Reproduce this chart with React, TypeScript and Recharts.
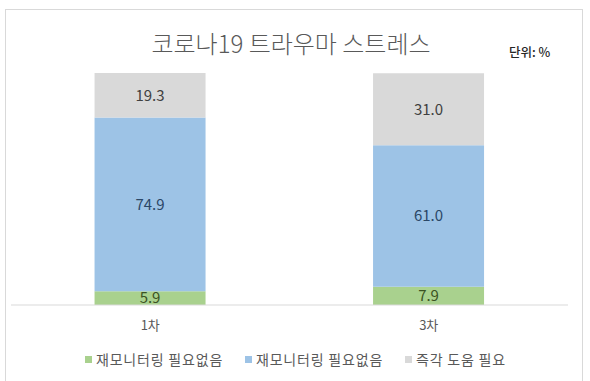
import React from 'react';
import { BarChart, Bar, XAxis, YAxis, LabelList } from 'recharts';

const categories = ['1차', '3차'];
const greenValues = [5.9, 7.9];
const blueValues = [74.9, 61.0];
const grayValues = [19.3, 31.0];
const seriesNames = ['재모니터링 필요없음', '재모니터링 필요없음', '즉각 도움 필요'];
const title = '코로나19 트라우마 스트레스';
const unitLabel = '단위: %';

const colors = ['#A9D18E', '#9DC3E6', '#D9D9D9'];
const labelColors = ['#3B5323', '#2B4766', '#404040'];

const data = categories.map((c, i) => ({
  name: c,
  green: greenValues[i],
  blue: blueValues[i],
  gray: grayValues[i],
}));

const FONT = '"Noto Sans CJK KR", "Noto Sans", sans-serif';

export default function App() {
  const keys = ['green', 'blue', 'gray'];
  return (
    <div style={{ position: 'absolute', left: 0, top: 0, width: 590, height: 381, background: '#fff', fontFamily: FONT }}>
      <div style={{ position: 'absolute', left: 5, top: 9, width: 578, height: 380, border: '1px solid #D9D9D9', boxSizing: 'border-box' }} />
      <div style={{ position: 'absolute', left: 0, top: 27, width: 582, textAlign: 'center', fontSize: 24, color: '#595959', lineHeight: '32px', fontWeight: 300 }}>
        {title}
      </div>
      <div style={{ position: 'absolute', left: 509, top: 44, fontSize: 12.5, color: '#262626', lineHeight: '16px', fontWeight: 500 }}>
        {unitLabel}
      </div>
      <div style={{ position: 'absolute', left: 0, top: 0 }}>
        <BarChart
          width={590}
          height={381}
          data={data}
          margin={{ top: 73, right: 22, left: 11, bottom: 0 }}
          barCategoryGap="30%"
        >
          <XAxis
            dataKey="name"
            height={76}
            axisLine={{ stroke: '#D9D9D9' }}
            tickLine={false}
            tickMargin={10}
            tick={{ fontSize: 13, fill: '#595959', fontFamily: FONT }}
          />
          <YAxis hide domain={[0, 100]} allowDataOverflow />
          {keys.map((k, i) => (
            <Bar key={k} dataKey={k} stackId="a" fill={colors[i]} isAnimationActive={false} name={seriesNames[i]}>
              <LabelList
                dataKey={k}
                position="center"
                formatter={(v: number) => v.toFixed(1)}
                style={{ fontSize: 15, fill: labelColors[i], fontFamily: FONT }}
              />
            </Bar>
          ))}
        </BarChart>
      </div>
      <div style={{ position: 'absolute', top: 349, left: 0, width: 590, height: 20 }}>
        {seriesNames.map((n, i) => {
          const lefts = [85, 245, 405];
          return (
            <div key={i} style={{ position: 'absolute', left: lefts[i], top: 0, display: 'flex', alignItems: 'center', height: 20 }}>
              <span style={{ display: 'inline-block', width: 7, height: 7, background: colors[i], marginRight: 4 }} />
              <span style={{ fontSize: 14, letterSpacing: 0.8, color: '#595959', whiteSpace: 'nowrap' }}>{n}</span>
            </div>
          );
        })}
      </div>
    </div>
  );
}
